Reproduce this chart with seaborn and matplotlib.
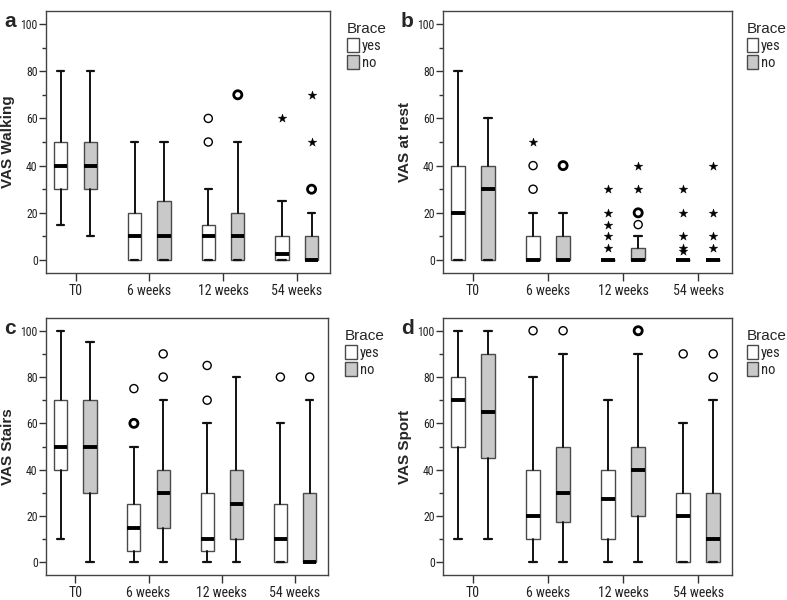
import numpy as np
import pandas as pd
import matplotlib
matplotlib.use("Agg")
import matplotlib.pyplot as plt
from matplotlib import font_manager
from matplotlib.patches import Patch
import seaborn as sns

# ---------------- data (whislo, q1, median, q3, whishi) ----------------
categories = ["T0", "6 weeks", "12 weeks", "54 weeks"]
groups = ["yes", "no"]

walk_yes = [[15, 30, 40, 50, 80], [0, 0, 10, 20, 50], [0, 0, 10, 15, 30], [0, 0, 2.5, 10, 25]]
walk_no = [[10, 30, 40, 50, 80], [0, 0, 10, 25, 50], [0, 0, 10, 20, 50], [0, 0, 0, 10, 20]]
walk_yes_circles = [[], [], [50, 60], []]
walk_no_circles = [[], [], [70, 70], [30, 30]]
walk_yes_stars = [[], [], [], [60]]
walk_no_stars = [[], [], [], [50, 70]]

rest_yes = [[0, 0, 20, 40, 80], [0, 0, 0, 10, 20], [0, 0, 0, 0, 0], [0, 0, 0, 0, 0]]
rest_no = [[0, 0, 30, 40, 60], [0, 0, 0, 10, 20], [0, 0, 0, 5, 10], [0, 0, 0, 0, 0]]
rest_yes_circles = [[], [30, 40], [], []]
rest_no_circles = [[], [40, 40], [15, 20, 20], []]
rest_yes_stars = [[], [50], [5, 10, 15, 20, 30], [4, 5, 10, 20, 30]]
rest_no_stars = [[], [], [30, 40], [5, 10, 20, 40]]

stairs_yes = [[10, 40, 50, 70, 100], [0, 5, 15, 25, 50], [0, 5, 10, 30, 60], [0, 0, 10, 25, 60]]
stairs_no = [[0, 30, 50, 70, 95], [0, 15, 30, 40, 70], [0, 10, 25, 40, 80], [0, 0, 0, 30, 70]]
stairs_yes_circles = [[], [60, 60, 75], [70, 85], [80]]
stairs_no_circles = [[], [80, 90], [], [80]]
stairs_yes_stars = [[], [], [], []]
stairs_no_stars = [[], [], [], []]

sport_yes = [[10, 50, 70, 80, 100], [0, 10, 20, 40, 80], [0, 10, 27.5, 40, 70], [0, 0, 20, 30, 60]]
sport_no = [[10, 45, 65, 90, 100], [0, 17.5, 30, 50, 90], [0, 20, 40, 50, 90], [0, 0, 10, 30, 70]]
sport_yes_circles = [[], [100], [], [90]]
sport_no_circles = [[], [100], [100, 100], [80, 90]]
sport_yes_stars = [[], [], [], []]
sport_no_stars = [[], [], [], []]

panel_letters = ["a", "b", "c", "d"]
panel_labels = ["VAS Walking", "VAS at rest", "VAS Stairs", "VAS Sport"]
y_ticks = [0, 20, 40, 60, 80, 100]

# ---------------- style ----------------
sns.set_style("ticks")

def pick_font(names):
    for n in names:
        try:
            font_manager.findfont(n, fallback_to_default=False)
            return n
        except Exception:
            continue
    return "DejaVu Sans"

narrow = pick_font(["Liberation Sans Narrow", "Roboto Condensed", "Liberation Sans"])
bold_font = pick_font(["Liberation Sans", "Arial", "DejaVu Sans"])
plt.rcParams["font.family"] = [narrow, "DejaVu Sans"]

fill_colors = {"yes": "#ffffff", "no": "#c9c9c9"}
edge_color = "#4a4a4a"
offsets = {"yes": -0.2, "no": 0.2}

panels = [
    (walk_yes, walk_no, walk_yes_circles, walk_no_circles, walk_yes_stars, walk_no_stars),
    (rest_yes, rest_no, rest_yes_circles, rest_no_circles, rest_yes_stars, rest_no_stars),
    (stairs_yes, stairs_no, stairs_yes_circles, stairs_no_circles, stairs_yes_stars, stairs_no_stars),
    (sport_yes, sport_no, sport_yes_circles, sport_no_circles, sport_yes_stars, sport_no_stars),
]

W, H = 787, 600
fig = plt.figure(figsize=(W / 100, H / 100), dpi=100)
rects = [
    (46, 11, 330, 273),
    (443, 11, 732, 273),
    (46, 318, 328, 575),
    (443, 318, 732, 575),
]
legend_x = [1.04, 1.03, 1.04, 1.03]

for idx, (rect, pdata) in enumerate(zip(rects, panels)):
    x0, y0, x1, y1 = rect
    ax = fig.add_axes([x0 / W, 1 - y1 / H, (x1 - x0) / W, (y1 - y0) / H])
    s_yes, s_no, c_yes, c_no, st_yes, st_no = pdata
    for g, stats_list, circ, stars in (("yes", s_yes, c_yes, st_yes), ("no", s_no, c_no, st_no)):
        bstats = []
        pos = []
        for ci, s in enumerate(stats_list):
            bstats.append(dict(whislo=s[0], q1=s[1], med=s[2], q3=s[3], whishi=s[4], fliers=[]))
            pos.append(ci + offsets[g])
        ax.bxp(bstats, positions=pos, widths=0.18, patch_artist=True, showfliers=False,
               capwidths=0.1,
               boxprops=dict(facecolor=fill_colors[g], edgecolor=edge_color, linewidth=1.0),
               medianprops=dict(color="black", linewidth=2.8, solid_capstyle="butt"),
               whiskerprops=dict(color="#111111", linewidth=1.4),
               capprops=dict(color="#111111", linewidth=1.6))
        # outliers
        rows = []
        for ci, vals in enumerate(circ):
            for v in sorted(set(vals)):
                rows.append(dict(x=ci + offsets[g], y=v, kind="circle", n=vals.count(v)))
        for ci, vals in enumerate(stars):
            for v in sorted(set(vals)):
                rows.append(dict(x=ci + offsets[g], y=v, kind="star", n=vals.count(v)))
        if rows:
            df = pd.DataFrame(rows)
            dc = df[df.kind == "circle"]
            for n, sub in dc.groupby("n"):
                sns.scatterplot(data=sub, x="x", y="y", ax=ax, marker="o", s=34,
                                facecolor="none", edgecolor="black",
                                linewidth=1.0 if n == 1 else 2.0, legend=False, zorder=5)
            ds = df[df.kind == "star"]
            if len(ds):
                sns.scatterplot(data=ds, x="x", y="y", ax=ax, marker="*", s=42,
                                color="black", edgecolor="black", linewidth=0.3,
                                legend=False, zorder=5)
    ax.set_xlim(-0.4, 3.45)
    ax.set_ylim(-5.5, 105.5)
    ax.set_xticks(range(len(categories)))
    ax.set_xticklabels(categories, fontsize=10, color="#222222")
    ax.set_yticks(y_ticks)
    ax.set_yticklabels([str(t) for t in y_ticks], fontsize=8.5, color="#222222")
    ax.set_yticks(np.arange(10, 100, 20), minor=True)
    ax.tick_params(axis="y", which="major", length=5, width=1, color="#333333", pad=1)
    ax.tick_params(axis="y", which="minor", length=3, width=1, color="#333333")
    ax.tick_params(axis="x", which="major", length=6, width=1, color="#333333", pad=2)
    ax.set_xlabel("")
    ax.set_ylabel(panel_labels[idx], fontsize=11, fontweight="bold",
                  family=[bold_font, "DejaVu Sans"], labelpad=4)
    for sp in ax.spines.values():
        sp.set_visible(True)
        sp.set_color("#444444")
        sp.set_linewidth(1.0)
    handles = [Patch(facecolor=fill_colors[g], edgecolor=edge_color, linewidth=1.0, label=g)
               for g in groups]
    leg = ax.legend(handles=handles, title="Brace", loc="upper left",
                    bbox_to_anchor=(legend_x[idx], 0.98), frameon=False, fontsize=10.5,
                    title_fontsize=11, handlelength=0.8, handleheight=1.1,
                    handletextpad=0.2, labelspacing=0.15, borderaxespad=0.0)
    leg.get_title().set_family([bold_font, "DejaVu Sans"])
    leg._legend_box.align = "left"
    fig.text((x0 - 42) / W, 1 - (y0 + 1) / H, panel_letters[idx], fontsize=15,
             fontweight="bold", family=[bold_font, "DejaVu Sans"], va="top", ha="left")

fig.savefig("out.png", dpi=100)
